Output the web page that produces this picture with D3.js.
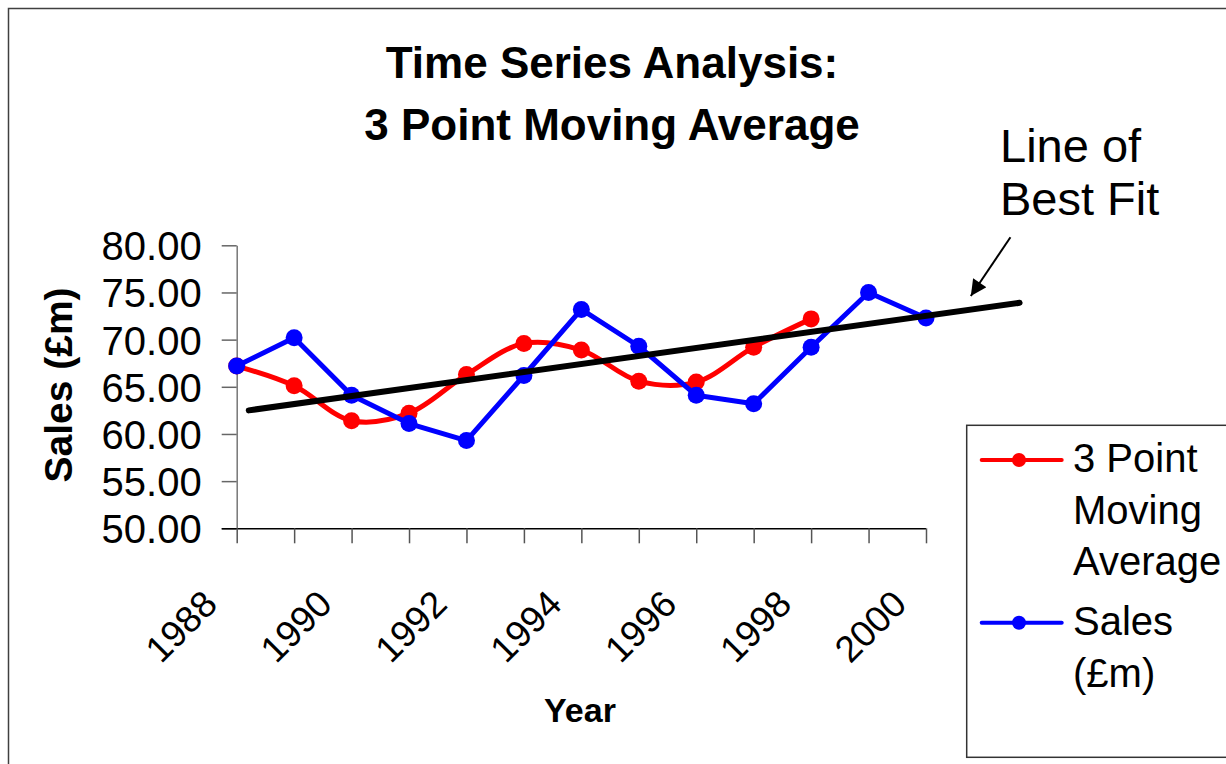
<!DOCTYPE html>
<html>
<head>
<meta charset="utf-8">
<script src="https://cdn.jsdelivr.net/npm/d3@7"></script>
<style>
  html, body { margin: 0; padding: 0; background: #fff; }
  svg { display: block; }
  text { font-family: "Liberation Sans", Arial, sans-serif; fill: #000; }
</style>
</head>
<body>
<svg id="chart" width="1226" height="764"></svg>
<script>
// ---- Data ----
const years = [1988, 1989, 1990, 1991, 1992, 1993, 1994, 1995, 1996, 1997, 1998, 1999, 2000];
const sales = [67.2, 70.2, 64.1, 61.1, 59.3, 66.2, 73.2, 69.3, 64.1, 63.2, 69.2, 75.0, 72.3];
const maYears = [1988, 1989, 1990, 1991, 1992, 1993, 1994, 1995, 1996, 1997, 1998];
const movingAvg = [67.2, 65.1, 61.4, 62.2, 66.3, 69.6, 68.9, 65.6, 65.5, 69.2, 72.2];
const bestFitYears = [1988.21, 2001.63];
const bestFitValues = [62.5, 73.9];
const yTicks = [50, 55, 60, 65, 70, 75, 80];
const xTickLabels = [1988, 1990, 1992, 1994, 1996, 1998, 2000];
const titleLines = ["Time Series Analysis:", "3 Point Moving Average"];
const legendItems = [
  { lines: ["3 Point", "Moving", "Average"], color: "#ff0000" },
  { lines: ["Sales", "(£m)"], color: "#0000ff" }
];

// ---- Setup ----
const svg = d3.select("#chart");
const x = d3.scaleLinear().domain([1988, 2000]).range([236.7, 926]);
const y = d3.scaleLinear().domain([50, 80]).range([528.3, 245.3]);

// outer border
svg.append("rect").attr("x", 8.5).attr("y", 8.5).attr("width", 1240).attr("height", 800)
  .attr("fill", "none").attr("stroke", "#404040").attr("stroke-width", 1.5);

// title
svg.append("g").selectAll("text").data(titleLines).join("text")
  .attr("x", 612).attr("y", (d, i) => 78 + i * 62)
  .attr("text-anchor", "middle").attr("font-size", 44).attr("font-weight", "bold")
  .text(d => d);

// y axis
const yAxis = svg.append("g").attr("transform", `translate(${x(1988)},0)`)
  .call(d3.axisLeft(y).tickValues(yTicks).tickSize(15).tickSizeOuter(0).tickPadding(20)
    .tickFormat(d3.format(".2f")));
yAxis.select(".domain").attr("stroke", "#777").attr("stroke-width", 1.5);
yAxis.selectAll(".tick line").attr("stroke", "#666").attr("stroke-width", 1.5);
yAxis.selectAll(".tick text").attr("font-size", 40).attr("dy", "0.36em")
  .attr("font-family", "'Liberation Sans', Arial, sans-serif").attr("fill", "#000");

// x axis
const xAxis = svg.append("g").attr("transform", `translate(0,${y(50)})`)
  .call(d3.axisBottom(x).tickValues(years).tickSize(15).tickSizeOuter(0)
    .tickFormat(d => xTickLabels.includes(d) ? String(d) : ""));
xAxis.select(".domain").attr("stroke", "#000").attr("stroke-width", 1.5)
  .attr("d", `M${x(1988) - 15},0.5H${x(2000)}`);
xAxis.selectAll(".tick line").attr("stroke", "#555").attr("stroke-width", 1.5);
xAxis.selectAll(".tick text")
  .attr("x", 0).attr("y", 0).attr("dy", 0)
  .attr("text-anchor", "end")
  .attr("transform", "translate(-18,78) rotate(-45)")
  .attr("font-size", 37).attr("fill", "#000")
  .attr("font-family", "'Liberation Sans', Arial, sans-serif");

// axis titles
svg.append("text").attr("transform", "translate(72,385) rotate(-90)")
  .attr("text-anchor", "middle").attr("font-size", 39).attr("font-weight", "bold")
  .text("Sales (£m)");
svg.append("text").attr("x", 580).attr("y", 721.7)
  .attr("text-anchor", "middle").attr("font-size", 34).attr("font-weight", "bold")
  .text("Year");

// moving average (smoothed)
const maData = maYears.map((yr, i) => [yr, movingAvg[i]]);
svg.append("path").datum(maData)
  .attr("fill", "none").attr("stroke", "#ff0000").attr("stroke-width", 5)
  .attr("stroke-linejoin", "round")
  .attr("d", d3.line().x(d => x(d[0])).y(d => y(d[1])).curve(d3.curveCatmullRom.alpha(0.5)));
svg.append("g").selectAll("circle").data(maData).join("circle")
  .attr("cx", d => x(d[0])).attr("cy", d => y(d[1])).attr("r", 8.5).attr("fill", "#ff0000");

// sales
const salesData = years.map((yr, i) => [yr, sales[i]]);
svg.append("path").datum(salesData)
  .attr("fill", "none").attr("stroke", "#0000ff").attr("stroke-width", 5)
  .attr("stroke-linejoin", "round")
  .attr("d", d3.line().x(d => x(d[0])).y(d => y(d[1])));
svg.append("g").selectAll("circle").data(salesData).join("circle")
  .attr("cx", d => x(d[0])).attr("cy", d => y(d[1])).attr("r", 8.5).attr("fill", "#0000ff");

// line of best fit
const fitData = bestFitYears.map((yr, i) => [yr, bestFitValues[i]]);
svg.append("path").datum(fitData)
  .attr("fill", "none").attr("stroke", "#000").attr("stroke-width", 6)
  .attr("stroke-linecap", "round")
  .attr("d", d3.line().x(d => x(d[0])).y(d => y(d[1])));

// annotation
svg.append("defs").append("marker").attr("id", "arrow")
  .attr("viewBox", "0 0 10 10").attr("refX", 10).attr("refY", 5)
  .attr("markerWidth", 9).attr("markerHeight", 8).attr("markerUnits", "strokeWidth")
  .attr("orient", "auto")
  .append("path").attr("d", "M0,0L10,5L0,10z").attr("fill", "#000");
svg.append("line")
  .attr("x1", x(2001.47)).attr("y1", y(80.85))
  .attr("x2", x(2000.78)).attr("y2", y(74.63))
  .attr("stroke", "#000").attr("stroke-width", 2).attr("marker-end", "url(#arrow)");
svg.append("g").selectAll("text").data(["Line of", "Best Fit"]).join("text")
  .attr("x", 1000).attr("y", (d, i) => 162 + i * 53)
  .attr("font-size", 47).text(d => d);

// legend
const lg = svg.append("g");
lg.append("rect").attr("x", 966.7).attr("y", 425.3).attr("width", 320).attr("height", 332)
  .attr("fill", "#fff").attr("stroke", "#333").attr("stroke-width", 1.5);
const lineStarts = [460, 622.7];
legendItems.forEach((item, k) => {
  const ly = lineStarts[k];
  lg.append("line").attr("x1", 981.7).attr("x2", 1061.7).attr("y1", ly).attr("y2", ly)
    .attr("stroke", item.color).attr("stroke-width", 4).attr("stroke-linecap", "round");
  lg.append("circle").attr("cx", 1019).attr("cy", ly).attr("r", 7).attr("fill", item.color);
  lg.selectAll(null).data(item.lines).join("text")
    .attr("x", 1073).attr("y", (d, i) => ly + 12.3 + i * 51.5)
    .attr("font-size", 40).text(d => d);
});
</script>
</body>
</html>
